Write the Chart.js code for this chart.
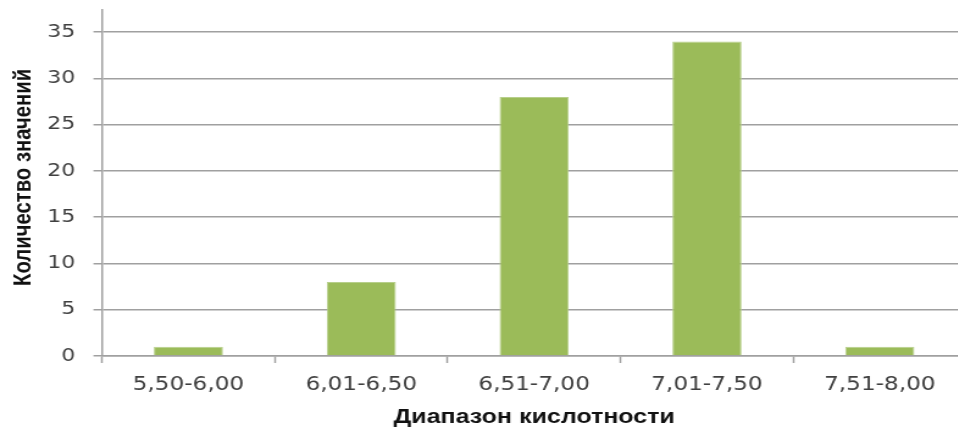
<!DOCTYPE html>
<html lang="ru">
<head>
<meta charset="utf-8">
<title>Диапазон кислотности</title>
<script src="https://cdn.jsdelivr.net/npm/chart.js@4.4.1/dist/chart.umd.min.js"></script>
<style>
  html, body { margin: 0; padding: 0; background: #ffffff; overflow: hidden; width: 958px; height: 430px; }
  #wrap { width: 800px; height: 430px; transform: scaleX(1.22); transform-origin: 0 0; }
  canvas { display: block; }
</style>
</head>
<body>
<div id="wrap"><canvas id="chart" width="800" height="430"></canvas></div>
<script>
// Ranges of acidity (pH) and how many measurements fall into each
const categories = ['5,50-6,00', '6,01-6,50', '6,51-7,00', '7,01-7,50', '7,51-8,00'];
const counts = [1, 8, 28, 34, 1];
const yTickValues = [0, 5, 10, 15, 20, 25, 30, 35];

const xTitle = 'Диапазон кислотности';
const yTitle = '  Количество значений';

const gridGray = '#a0a0a0';
const labelGray = '#404040';

new Chart(document.getElementById('chart'), {
  type: 'bar',
  data: {
    labels: categories,
    datasets: [{
      data: counts,
      backgroundColor: '#9bbb59',
      borderColor: '#b7cf8b',
      borderWidth: 1,
      barPercentage: 0.4,
      categoryPercentage: 1.0
    }]
  },
  options: {
    responsive: false,
    animation: false,
    layout: { padding: { top: 10, right: 8, bottom: 0, left: 0 } },
    plugins: { legend: { display: false }, tooltip: { enabled: false } },
    scales: {
      x: {
        offset: true,
        afterFit: (axis) => {
          axis.height = 74;
          axis.paddingLeft = 0;
          axis.paddingRight = 0;
        },
        grid: {
          offset: true,
          drawOnChartArea: false,
          drawTicks: true,
          tickLength: 7,
          color: gridGray,
          tickWidth: 1.5
        },
        border: { display: true, color: gridGray, width: 1.5 },
        ticks: {
          padding: 11,
          color: labelGray,
          font: { family: 'DejaVu Sans', size: 19 }
        },
        title: {
          display: true,
          text: xTitle,
          color: '#111111',
          font: { family: 'Liberation Sans', size: 20.5, weight: 'bold' },
          padding: { top: 10, bottom: 0 }
        }
      },
      y: {
        min: 0,
        max: 37.4,
        afterBuildTicks: (axis) => {
          axis.ticks = yTickValues.map(v => ({ value: v }));
        },
        afterFit: (axis) => {
          axis.width = 83.6;
          axis.paddingTop = 0;
          axis.paddingBottom = 0;
        },
        grid: {
          color: gridGray,
          lineWidth: 1.5,
          tickLength: 7,
          drawTicks: true
        },
        border: { display: true, color: gridGray, width: 1.5 },
        ticks: {
          padding: 15,
          color: labelGray,
          font: { family: 'DejaVu Sans', size: 18 }
        },
        title: {
          display: true,
          text: yTitle,
          color: '#111111',
          font: { family: 'Liberation Sans', size: 20.3, weight: 'bold' },
          padding: { top: 7, bottom: 8 }
        }
      }
    }
  }
});
</script>
</body>
</html>
